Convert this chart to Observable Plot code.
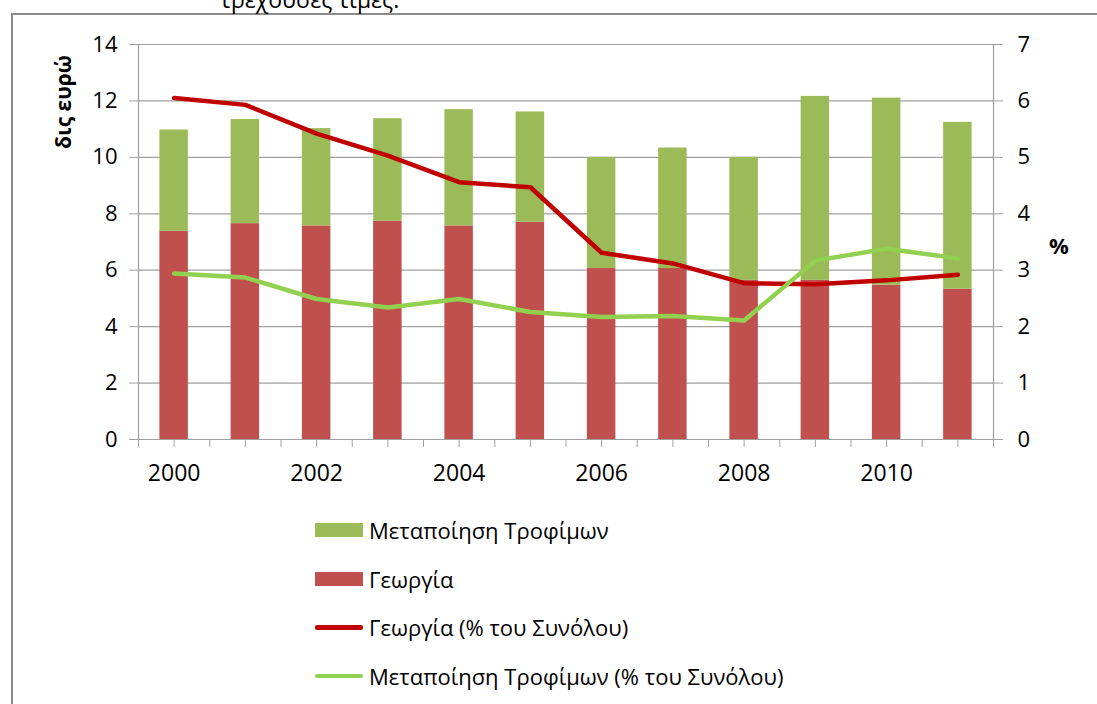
<!DOCTYPE html>
<html><head><meta charset="utf-8">
<script src="https://cdn.jsdelivr.net/npm/d3@7"></script>
<script src="https://cdn.jsdelivr.net/npm/@observablehq/plot@0.6"></script>
<style>
body{margin:0;background:#fff;font-family:"Open Sans",sans-serif;}
#wrap{position:relative;width:1097px;height:704px;overflow:hidden;background:#fff;}
#frame{position:absolute;left:11px;top:13px;width:1200px;height:800px;border-left:2px solid #8c8c8c;border-top:2px solid #8c8c8c;box-sizing:border-box;}
#chart{position:absolute;left:0;top:0;}
.t{position:absolute;color:#000;white-space:nowrap;}
.sw{position:absolute;}
</style></head>
<body><div id="wrap">
<div id="frame"></div>
<div class="t" style="left:220px;top:-12px;font-size:23px;line-height:23px;">τρέχουσες τιμές.</div>
<div id="chart"></div>
<div class="t" style="left:63px;top:102px;font-size:21px;font-weight:bold;transform:translate(-50%,-50%) rotate(-90deg);">δις ευρώ</div>
<div class="t" style="left:1059px;top:245px;font-size:22px;font-weight:bold;transform:translate(-50%,-50%);">%</div>
<div id="legend"></div>
</div>
<script>
const years = [2000,2001,2002,2003,2004,2005,2006,2007,2008,2009,2010,2011];
const agriculture = [7.38,7.65,7.57,7.74,7.57,7.70,6.06,6.06,5.64,5.64,5.47,5.33];
const foodProcessing = [3.59,3.69,3.45,3.63,4.12,3.91,3.94,4.27,4.36,6.52,6.63,5.91];
const agriculturePct = [6.05,5.93,5.42,5.03,4.56,4.47,3.31,3.12,2.77,2.75,2.82,2.92];
const foodProcessingPct = [2.94,2.87,2.49,2.34,2.49,2.26,2.17,2.19,2.11,3.17,3.38,3.21];
const leftTicks = [0,2,4,6,8,10,12,14];
const xLabels = [2000,2002,2004,2006,2008,2010];

const names = {
  food: "Μεταποίηση Τροφίμων",
  agri: "Γεωργία",
  agriPct: "Γεωργία (% του Συνόλου)",
  foodPct: "Μεταποίηση Τροφίμων (% του Συνόλου)"
};
const colors = {food:"#9BBB59", agri:"#C0504D", agriPct:"#C00000", foodPct:"#92D050"};

const bars = [];
years.forEach((y,i)=>{
  bars.push({year:y, series:"agri", value:agriculture[i]});
  bars.push({year:y, series:"food", value:foodProcessing[i]});
});
const agriLine = years.map((y,i)=>({year:y, pct:agriculturePct[i]}));
const foodLine = years.map((y,i)=>({year:y, pct:foodProcessingPct[i]}));
const halfTicks = d3.range(years[0]-0.5, years[years.length-1]+0.51, 0.5);
const xDomain = [years[0]-0.5, years[years.length-1]+0.5];

const chart = Plot.plot({
  width:1097, height:500,
  marginLeft:138, marginRight:104, marginTop:44, marginBottom:61,
  style:{fontFamily:"'Open Sans',sans-serif", color:"#000", background:"transparent"},
  x:{type:"linear", domain:xDomain},
  y:{domain:[0,14]},
  marks:[
    Plot.gridY(leftTicks.filter(d=>d>0), {stroke:"#a0a0a0", strokeOpacity:1, strokeWidth:1.2}),
    Plot.rectY(bars, Plot.stackY({x1:d=>d.year-0.2, x2:d=>d.year+0.2, y:"value", fill:d=>colors[d.series]})),
    Plot.line(agriLine, {x:"year", y:d=>d.pct*2, stroke:colors.agriPct, strokeWidth:4.5, strokeLinejoin:"round", strokeLinecap:"round"}),
    Plot.line(foodLine, {x:"year", y:d=>d.pct*2, stroke:colors.foodPct, strokeWidth:4.5, strokeLinejoin:"round", strokeLinecap:"round"}),
    Plot.ruleX(xDomain, {stroke:"#a0a0a0", strokeWidth:1.2}),
    Plot.ruleY([0], {stroke:"#a0a0a0", strokeWidth:1.2}),
    Plot.axisY(leftTicks, {anchor:"left", tickSize:9, tickPadding:12, fontSize:22, stroke:"#a0a0a0", label:null}),
    Plot.axisY(leftTicks, {anchor:"right", tickSize:9, tickPadding:15, fontSize:22, stroke:"#a0a0a0", tickFormat:d=>d/2, textAnchor:"start", label:null}),
    Plot.axisX(halfTicks, {anchor:"bottom", tickSize:8, tickPadding:17, fontSize:23, stroke:"#a0a0a0", tickFormat:d=>xLabels.includes(d)?String(d):"", label:null})
  ]
});
chart.querySelectorAll("text").forEach(t=>t.setAttribute("fill","#000"));
document.getElementById("chart").appendChild(chart);

const legendRows = [
  {key:"food", kind:"bar"},
  {key:"agri", kind:"bar"},
  {key:"agriPct", kind:"line"},
  {key:"foodPct", kind:"line"}
];
const legend = document.getElementById("legend");
legendRows.forEach((r,i)=>{
  const cy = 530 + i*48.7;
  const sw = document.createElement("div");
  sw.className="sw";
  const h = r.kind==="bar"?14:4.5;
  sw.style.cssText = `left:315px;top:${cy-h/2}px;width:48px;height:${h}px;background:${colors[r.key]};border-radius:${r.kind==="line"?"2px":"0"}`;
  legend.appendChild(sw);
  const tx = document.createElement("div");
  tx.className="t";
  tx.textContent = names[r.key];
  tx.style.cssText = `left:369px;top:${cy}px;font-size:22px;transform:translateY(-50%);line-height:1;`;
  legend.appendChild(tx);
});
</script>
</body></html>
